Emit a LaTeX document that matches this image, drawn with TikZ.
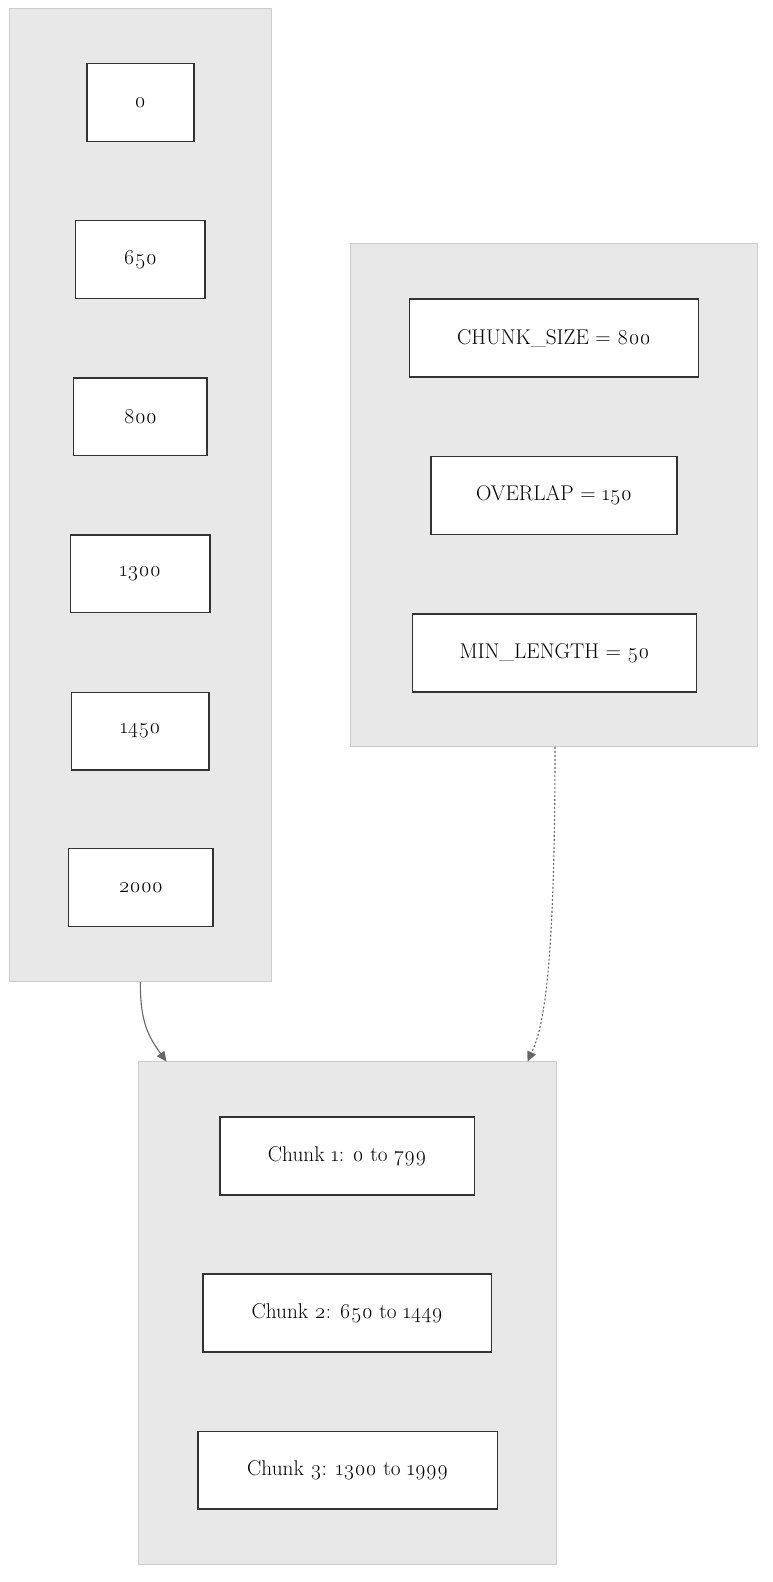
\documentclass[tikz,border=0pt]{standalone}
\usepackage{fontspec}
\setmainfont{Latin Modern Roman}[Numbers=OldStyle]
\usetikzlibrary{arrows.meta}
\definecolor{clfill}{HTML}{E8E8E8}
\definecolor{clline}{HTML}{CCCCCC}
\definecolor{ndline}{HTML}{333333}
\definecolor{edline}{HTML}{666666}
\begin{document}
\begin{tikzpicture}[x=1pt,y=-1pt,
  cluster/.style={draw=clline,fill=clfill,line width=1pt},
  box/.style={draw=ndline,fill=white,line width=1.5pt,minimum height=77.7pt,inner sep=0pt,
    font=\fontsize{21.3}{24}\selectfont,text=black},
  conn/.style={draw=edline,line width=1.1pt,-{Triangle[length=10pt,width=9pt]}},
]
\useasboundingbox (0,0) rectangle (772,1582);
% clusters
\path[cluster] (9.1,8.1) rectangle (271.5,981.9);
\path[cluster] (350.2,243.2) rectangle (757.9,746.8);
\path[cluster] (138.3,1061.6) rectangle (556.0,1564.2);
\coordinate (leftbot) at (140.3,981.9);
\coordinate (rightbot) at (555,746.8);
\coordinate (botl) at (166.5,1061.6);
\coordinate (botr) at (527.5,1061.6);
% left column
\node[box,minimum width=107pt] (n0) at (140.3,102.4) {0};
\node[box,minimum width=129.2pt] (n650) at (140.3,259.4) {650};
\node[box,minimum width=133.2pt] (n800) at (140.3,416.8) {800};
\node[box,minimum width=139.3pt] (n1300) at (140.3,573.7) {1300};
\node[box,minimum width=137.3pt] (n1450) at (140.3,731.1) {1450};
\node[box,minimum width=144.3pt] (n2000) at (140.8,887.5) {2000};
% right column
\node[box,minimum width=288.6pt] (cs) at (554,338) {CHUNK\_SIZE = 800};
\node[box,minimum width=246.2pt] (ov) at (554,495.5) {OVERLAP = 150};
\node[box,minimum width=283.6pt] (ml) at (554.5,653) {MIN\_LENGTH = 50};
% bottom
\node[box,minimum width=254.3pt] (c1) at (347.2,1156) {Chunk 1: 0 to 799};
\node[box,minimum width=288.7pt] (c2) at (347.2,1312.9) {Chunk 2: 650 to 1449};
\node[box,minimum width=299.7pt] (c3) at (347.7,1470.3) {Chunk 3: 1300 to 1999};
% edges
\draw[conn] (leftbot) .. controls (140.3,1022) and (148,1036) .. (botl);
\draw[conn,dash pattern=on 2pt off 2pt] (rightbot) .. controls (555,985) and (542,1030) .. (botr);
\end{tikzpicture}
\end{document}
